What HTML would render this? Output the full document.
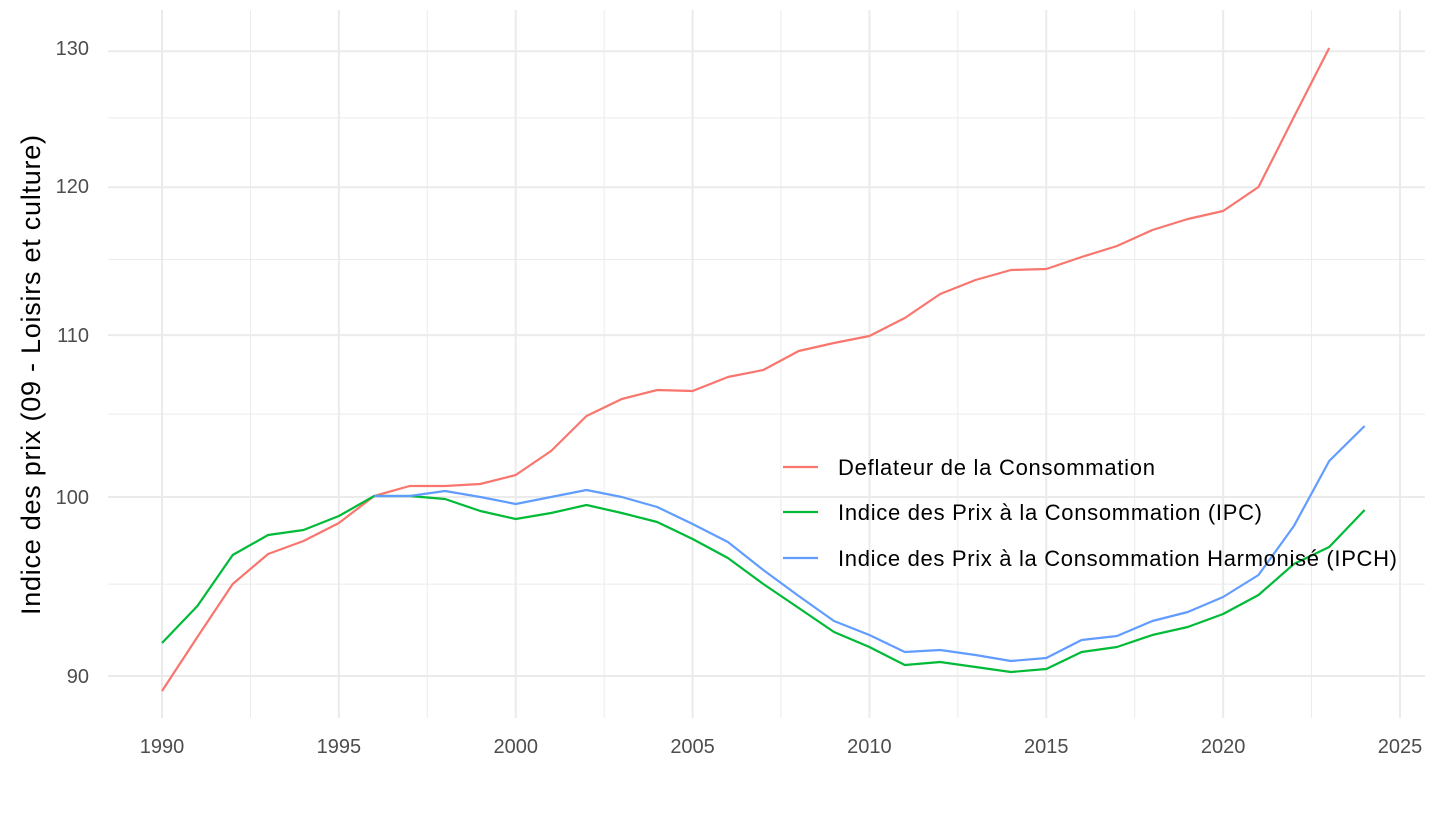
<!DOCTYPE html>
<html><head><meta charset="utf-8"><style>
html,body{margin:0;padding:0;background:#fff;}
svg text{font-family:"Liberation Sans",Arial,sans-serif;}
</style></head><body>
<svg id="s" width="1440" height="810" xmlns="http://www.w3.org/2000/svg">
<g id="grid"></g>
<g id="lines" fill="none" stroke-width="2.2" stroke-linejoin="round"></g>
<g font-size="20" fill="#4d4d4d" text-anchor="end">
<text x="89" y="683">90</text><text x="89" y="504">100</text><text x="89" y="342">110</text><text x="89" y="193">120</text><text x="89" y="55">130</text>
</g>
<g id="xl" font-size="20" fill="#4d4d4d" text-anchor="middle"></g>
<text transform="translate(40,375) rotate(-90)" font-size="27" fill="#000" text-anchor="middle" textLength="480">Indice des prix (09 - Loisirs et culture)</text>
<g stroke-width="2.2">
<line x1="783" y1="467" x2="818" y2="467" stroke="#F8766D"/>
<line x1="783" y1="512" x2="818" y2="512" stroke="#00BA38"/>
<line x1="783" y1="558" x2="818" y2="558" stroke="#619CFF"/>
</g>
<g font-size="22" fill="#000">
<text x="838" y="475" textLength="317">Deflateur de la Consommation</text>
<text x="838" y="520" textLength="424">Indice des Prix à la Consommation (IPC)</text>
<text x="838" y="566" textLength="559">Indice des Prix à la Consommation Harmonisé (IPCH)</text>
</g>
</svg>
<script>
function X(y){return 162+35.371*(y-1990);}
function Y(v){return 497-1699*Math.log(v/100);}
var g=document.getElementById('grid'),h='';
for(var yr=1987.5;yr<=2026;yr+=2.5){var x=X(yr);if(x<108||x>1425)continue;var maj=(yr%5===0);
h+='<line x1="'+x+'" y1="10" x2="'+x+'" y2="718" stroke="#ebebeb" stroke-width="'+(maj?2:1)+'"/>';}
[90,95,100,105,110,115,120,125,130].forEach(function(v){var y=Y(v);var maj=(v%10===0);
h+='<line x1="108" y1="'+y+'" x2="1425" y2="'+y+'" stroke="#ebebeb" stroke-width="'+(maj?2:1)+'"/>';});
g.innerHTML=h;
var xl='';for(var yr=1990;yr<=2025;yr+=5)xl+='<text x="'+X(yr)+'" y="753">'+yr+'</text>';
document.getElementById('xl').innerHTML=xl;
var D={F:[1990,[691,637,584,554,541,523,496,486,486,484,475,451,416,399,390,391,377,370,351,343,336,318,294,280,270,269,257,246,230,219,211,187,117,48]],
I:[1990,[643,606,555,535,530,516,496,496,499,511,519,513,505,513,522,539,558,584,608,632,647,665,662,667,672,669,652,647,635,627,614,595,564,547,510]],
H:[1996,[496,496,491,497,504,497,490,497,507,524,542,570,596,621,635,652,650,655,661,658,640,636,621,612,597,575,526,461,426]]};
var C={F:"#F8766D",I:"#00BA38",H:"#619CFF"},l='';
["F","I","H"].forEach(function(k){var s=D[k][0],p=D[k][1].map(function(y,i){return X(s+i).toFixed(1)+','+y;}).join(' ');
l+='<polyline points="'+p+'" stroke="'+C[k]+'"/>';});
document.getElementById('lines').innerHTML=l;
</script>
</body></html>
